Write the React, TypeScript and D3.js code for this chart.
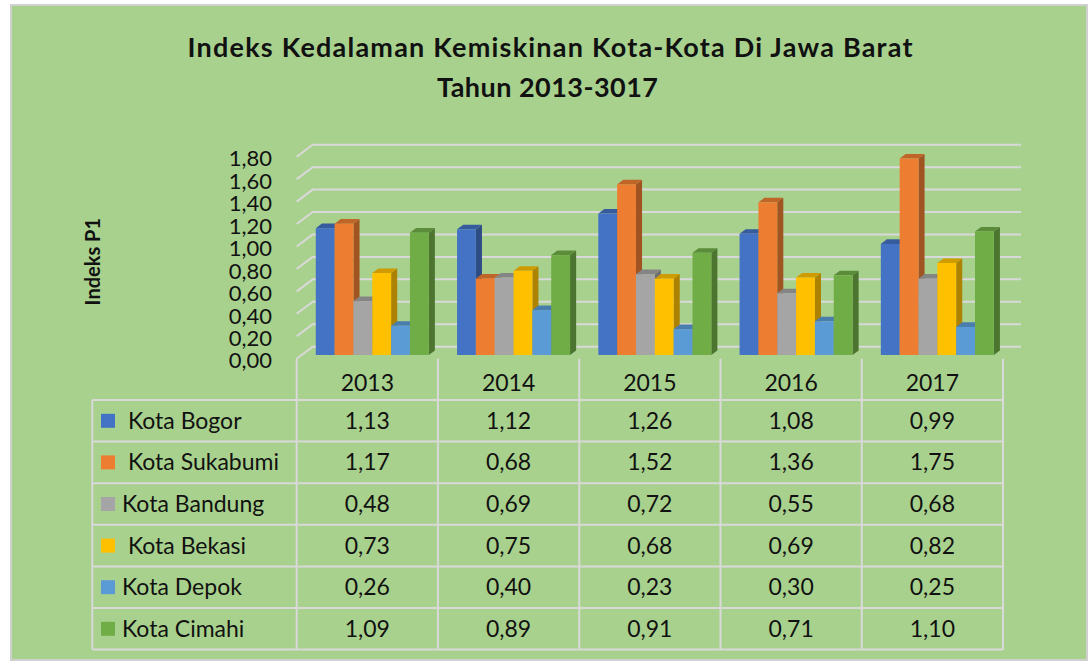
import React from 'react';
import * as d3 from 'd3';

const years = ['2013', '2014', '2015', '2016', '2017'];
const cityNames = [' Kota Bogor', ' Kota Sukabumi', 'Kota Bandung', ' Kota Bekasi', 'Kota Depok', 'Kota Cimahi'];
const bogor = [1.13, 1.12, 1.26, 1.08, 0.99];
const sukabumi = [1.17, 0.68, 1.52, 1.36, 1.75];
const bandung = [0.48, 0.69, 0.72, 0.55, 0.68];
const bekasi = [0.73, 0.75, 0.68, 0.69, 0.82];
const depok = [0.26, 0.4, 0.23, 0.3, 0.25];
const cimahi = [1.09, 0.89, 0.91, 0.71, 1.1];
const seriesValues = [bogor, sukabumi, bandung, bekasi, depok, cimahi];
const colors = ['#4472C4', '#ED7D31', '#A5A5A5', '#FFC000', '#5B9BD5', '#70AD47'];

const W = 1092;
const H = 662;
const FONT = 'Lato, "Open Sans", sans-serif';

// 3d depth offset of the back wall vs the front plane
const DX = 16;
const DY = -12;
const D0 = 0.31;
const D1 = 0.69;

const fmt = (v: number) => d3.format('.2f')(v).replace('.', ',');

export default function App() {
  const left = 296.7;
  const right = 1003;
  const x = d3.scaleBand().domain(years).range([left, right]);
  const bw = x.bandwidth();
  const inner = d3.scaleBand().domain(cityNames).range([bw * 0.1, bw * 0.9]);
  const y = d3.scaleLinear().domain([0, 1.8]).range([358.7, 156.7]);
  const ticks = y.ticks(10);

  const rowTop = 400;
  const rowH = 41.6;
  const tableLeft = 92.3;
  const rows = d3.range(cityNames.length + 1).map((i) => rowTop + i * rowH);

  const sx = DX * (D1 - D0);
  const sy = DY * (D1 - D0);

  const bars: React.ReactNode[] = [];
  years.forEach((yr, j) => {
    cityNames.forEach((name, i) => {
      const v = seriesValues[i][j];
      const x0 = (x(yr) as number) + (inner(name) as number) + DX * D0;
      const w = inner.bandwidth();
      const top = y(v) + DY * D0;
      const base = y(0) + DY * D0;
      const c = d3.color(colors[i])!;
      const side = c.darker(1.1).toString();
      const topC = c.darker(0.6).toString();
      bars.push(
        <g key={yr + name}>
          <polygon
            points={`${x0 + w},${top} ${x0 + w + sx},${top + sy} ${x0 + w + sx},${base + sy} ${x0 + w},${base}`}
            fill={side}
          />
          <polygon
            points={`${x0},${top} ${x0 + w},${top} ${x0 + w + sx},${top + sy} ${x0 + sx},${top + sy}`}
            fill={topC}
          />
          <rect x={x0} y={top} width={w} height={base - top} fill={colors[i]} />
        </g>
      );
    });
  });

  const gridColor = '#D9D9D9';
  const fs = 23;

  return (
    <svg width={W} height={H} style={{ position: 'absolute', left: 0, top: 0 }}>
      <rect x={0} y={0} width={W} height={H} fill="#ffffff" />
      <rect x={11} y={5} width={1076} height={655} fill="#A9D18E" stroke="#D0D0D0" strokeWidth={2} />

      <text x={550} y={57} textAnchor="middle" fontFamily={FONT} fontWeight="bold" fontSize={27}
        textLength={725} lengthAdjust="spacing" fill="#111">
        Indeks Kedalaman Kemiskinan Kota-Kota Di Jawa Barat
      </text>
      <text x={547.5} y={96.7} textAnchor="middle" fontFamily={FONT} fontWeight="bold" fontSize={27}
        textLength={221} lengthAdjust="spacing" fill="#111">
        Tahun 2013-3017
      </text>

      <text transform="translate(100,261.7) rotate(-90)" textAnchor="middle" fontFamily={FONT}
        fontWeight="bold" fontSize={20} fill="#111">
        Indeks P1
      </text>

      {/* gridlines on the left and back walls */}
      {ticks.map((t) => (
        <polyline key={t}
          points={`${left},${y(t)} ${left + DX},${y(t) + DY} ${right + DX + 2},${y(t) + DY}`}
          fill="none" stroke={gridColor} strokeWidth={2} />
      ))}
      {ticks.map((t) => (
        <text key={'l' + t} x={272} y={y(t) + 2} dy="0.35em" textAnchor="end" fontFamily={FONT}
          fontSize={22} fill="#111">
          {fmt(t)}
        </text>
      ))}

      {bars}

      {/* data table */}
      {rows.map((ry) => (
        <line key={'h' + ry} x1={tableLeft} x2={right} y1={ry} y2={ry} stroke={gridColor} strokeWidth={2} />
      ))}
      <line x1={tableLeft} x2={tableLeft} y1={rowTop} y2={rows[rows.length - 1]} stroke={gridColor} strokeWidth={2} />
      {[...years.map((yr) => x(yr) as number), right].map((cx) => (
        <line key={'v' + cx} x1={cx} x2={cx} y1={y(0)} y2={rows[rows.length - 1]} stroke={gridColor} strokeWidth={2} />
      ))}
      {years.map((yr) => (
        <text key={'y' + yr} x={(x(yr) as number) + bw / 2} y={383} dy="0.35em" textAnchor="middle"
          fontFamily={FONT} fontSize={fs} fill="#111">
          {yr}
        </text>
      ))}
      {cityNames.map((name, i) => (
        <g key={'r' + name}>
          <rect x={101} y={rows[i] + rowH / 2 - 7} width={14} height={14} fill={colors[i]} />
          <text x={122} y={rows[i] + rowH / 2} dy="0.35em" fontFamily={FONT} fontSize={fs} fill="#111"
            style={{ whiteSpace: 'pre' }}>
            {name}
          </text>
          {years.map((yr, j) => (
            <text key={yr} x={(x(yr) as number) + bw / 2} y={rows[i] + rowH / 2} dy="0.35em"
              textAnchor="middle" fontFamily={FONT} fontSize={fs} fill="#111">
              {fmt(seriesValues[i][j])}
            </text>
          ))}
        </g>
      ))}
    </svg>
  );
}
